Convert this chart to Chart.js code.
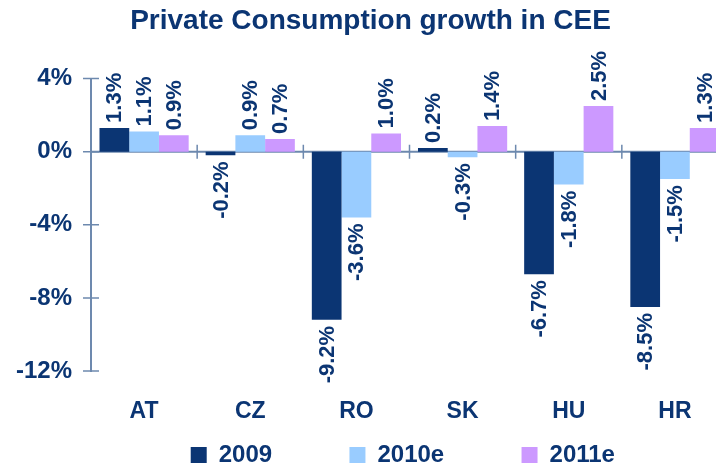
<!DOCTYPE html>
<html>
<head>
<meta charset="utf-8">
<title>Private Consumption growth in CEE</title>
<script src="https://cdn.jsdelivr.net/npm/chart.js@4.4.0/dist/chart.umd.min.js"></script>
<style>
  body { margin: 0; background: #fff; }
  #wrap { width: 716px; height: 463px; overflow: hidden; }
</style>
</head>
<body>
<div id="wrap"><canvas id="consumption" width="740" height="463"></canvas></div>
<script>
var countries = ["AT", "CZ", "RO", "SK", "HU", "HR"];
var growth2009 = [1.3, -0.2, -9.2, 0.2, -6.7, -8.5];
var growth2010e = [1.1, 0.9, -3.6, -0.3, -1.8, -1.5];
var growth2011e = [0.9, 0.7, 1.0, 1.4, 2.5, 1.3];
var yTicks = [4, 0, -4, -8, -12];

var navy = "#0B3573";
var axisColor = "#6D89AE";
var fontFamily = "'Liberation Sans', Arial, sans-serif";
// extra room after legend texts, the original legend is spread wide
var legendGaps = ["           ", "           ", "  "];

// zero line, axis marks and the rotated value labels
var axisMarks = {
  id: "axisMarks",
  beforeDatasetsDraw: function (chart) {
    var ctx = chart.ctx;
    var area = chart.chartArea;
    var y0 = chart.scales.y.getPixelForValue(0);
    ctx.save();
    ctx.strokeStyle = axisColor;
    ctx.lineWidth = 2;
    ctx.beginPath();
    ctx.moveTo(area.left, y0);
    ctx.lineTo(area.right, y0);
    ctx.stroke();
    ctx.restore();
  },
  afterDatasetsDraw: function (chart) {
    var ctx = chart.ctx;
    var x = chart.scales.x;
    var y = chart.scales.y;
    var y0 = y.getPixelForValue(0);

    ctx.save();
    ctx.strokeStyle = axisColor;
    ctx.lineWidth = 1.5;
    ctx.beginPath();
    yTicks.forEach(function (v) {
      var py = y.getPixelForValue(v);
      ctx.moveTo(x.left - 8, py);
      ctx.lineTo(x.left + 8, py);
    });
    for (var i = 1; i < countries.length; i++) {
      var px = (x.getPixelForValue(i - 1) + x.getPixelForValue(i)) / 2;
      ctx.moveTo(px, y0 - 7);
      ctx.lineTo(px, y0 + 7);
    }
    ctx.stroke();

    ctx.fillStyle = navy;
    ctx.font = "bold 22px " + fontFamily;
    ctx.textBaseline = "middle";
    chart.data.datasets.forEach(function (ds, di) {
      chart.getDatasetMeta(di).data.forEach(function (bar, j) {
        var v = ds.data[j];
        ctx.save();
        ctx.translate(bar.x, bar.y);
        ctx.rotate(-Math.PI / 2);
        ctx.textAlign = v >= 0 ? "left" : "right";
        ctx.fillText(v.toFixed(1) + "%", v >= 0 ? 5 : -6, 1);
        ctx.restore();
      });
    });
    ctx.restore();
  }
};

var ctx = document.getElementById("consumption").getContext("2d");
var myChart = new Chart(ctx, {
  type: "bar",
  data: {
    labels: countries,
    datasets: [
      { label: "2009", data: growth2009, backgroundColor: "#0B3573" },
      { label: "2010e", data: growth2010e, backgroundColor: "#99CCFF" },
      { label: "2011e", data: growth2011e, backgroundColor: "#CC99FF" },
    ],
  },
  options: {
    responsive: false,
    animation: false,
    devicePixelRatio: 1,
    layout: { padding: { left: 13, right: 12, top: 0, bottom: 0 } },
    datasets: {
      bar: { barPercentage: 1, categoryPercentage: 0.84, borderWidth: 0 },
    },
    scales: {
      x: {
        grid: { display: false, drawTicks: false },
        border: { display: false },
        ticks: {
          color: navy,
          padding: 27,
          font: { size: 23, weight: "bold", family: fontFamily },
        },
        afterFit: function (axis) { axis.height = 68; },
      },
      y: {
        min: Math.min.apply(null, yTicks),
        max: Math.max.apply(null, yTicks),
        afterBuildTicks: function (axis) {
          axis.ticks = yTicks.map(function (v) { return { value: v }; });
        },
        grid: { display: false, drawTicks: false },
        border: { display: true, color: axisColor, width: 2 },
        ticks: {
          color: navy,
          padding: 19,
          font: { size: 24, weight: "bold", family: fontFamily },
          callback: function (v) { return v + "%"; },
        },
        afterFit: function (axis) { axis.width = 78; },
      },
    },
    plugins: {
      title: {
        display: true,
        text: "Private Consumption growth in CEE",
        color: navy,
        font: { size: 28, weight: "bold", family: fontFamily },
        padding: { top: 4, bottom: 41 },
      },
      legend: {
        position: "bottom",
        fullSize: false,
        maxHeight: 24,
        labels: {
          color: navy,
          boxWidth: 16,
          boxHeight: 16,
          padding: 4,
          font: { size: 24, weight: "bold", family: fontFamily },
          generateLabels: function (chart) {
            var items = Chart.defaults.plugins.legend.labels.generateLabels(chart);
            items.forEach(function (item, i) {
              item.text = item.text + legendGaps[i];
            });
            return items;
          },
        },
      },
      tooltip: { enabled: false },
    },
  },
  plugins: [axisMarks],
});
</script>
</body>
</html>
